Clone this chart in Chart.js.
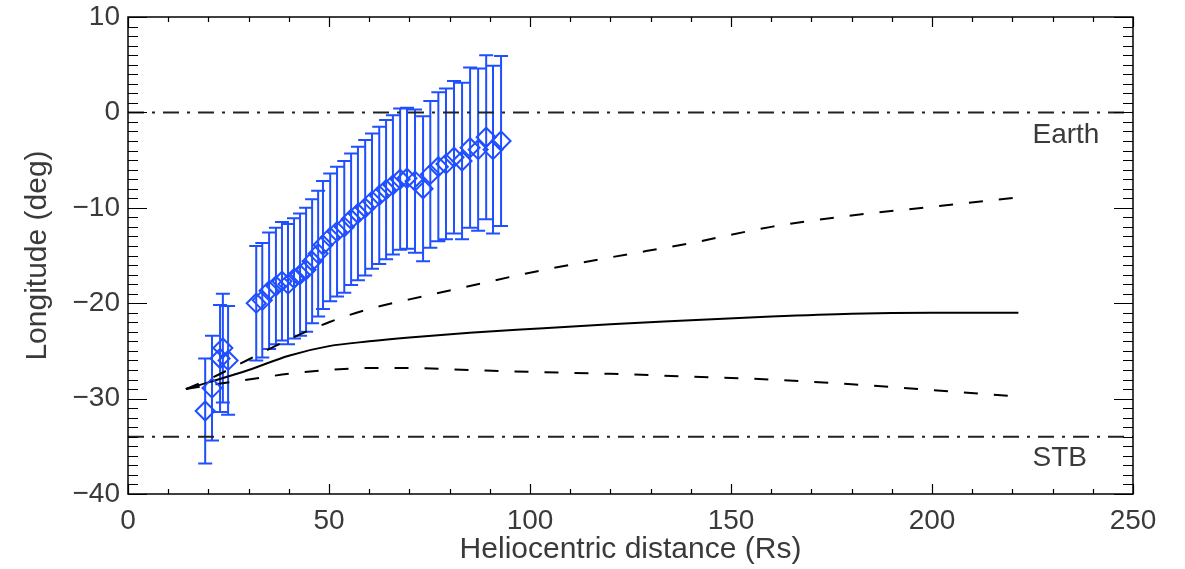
<!DOCTYPE html>
<html>
<head>
<meta charset="utf-8">
<script src="https://cdn.jsdelivr.net/npm/chart.js@4.4.0/dist/chart.umd.min.js"></script>
<style>
  html, body { margin: 0; padding: 0; background: #fff; }
</style>
</head>
<body>
<canvas id="myChart" width="1185" height="569"></canvas>
<script>
// Tracked CME front: heliocentric distance (Rs), longitude (deg) and its error (deg)
let distance = [
  19.2, 20.9, 22.9, 23.6, 24.9,
  31.9, 33.4, 35.1, 36.8, 38.3, 39.8, 41.3, 42.8, 44.3, 45.8,
  47.3, 48.5, 50.3, 52.0, 53.8, 55.5, 57.2, 59.0, 60.7, 62.5,
  64.2, 65.9, 67.7, 69.4, 71.4, 73.4, 75.2, 77.2, 79.1, 81.1,
  83.1, 85.1, 87.1, 89.1, 90.8, 92.8
];
let longitude = [
  -31.3, -28.9, -25.8, -24.7, -26.0,
  -20.0, -19.7, -18.7, -18.2, -17.7, -18.0, -17.4, -17.0, -16.5, -15.6,
  -14.8, -13.9, -13.1, -12.5, -12.0, -11.2, -10.6, -10.0, -9.3, -8.7,
  -8.1, -7.6, -7.0, -6.9, -7.2, -8.0, -6.5, -5.7, -5.4, -4.7,
  -5.1, -3.7, -3.9, -2.6, -3.9, -3.0
];
let longitudeErr = [
  5.5, 5.5, 5.6, 5.7, 5.7,
  6.0, 6.0, 6.1, 6.1, 6.2, 6.3, 6.3, 6.4, 6.5, 6.5,
  6.6, 6.7, 6.7, 6.8, 6.9, 6.9, 7.0, 7.1, 7.1, 7.2,
  7.3, 7.3, 7.4, 7.4, 7.5, 7.6, 7.7, 7.8, 7.9, 8.0,
  8.2, 8.4, 8.5, 8.6, 8.8, 8.9
];

// Model track and its upper / lower envelope
let modelDist = [14.4, 20, 30, 40, 50, 60, 70, 85, 100, 120, 140, 160, 180, 200, 221.5];
let modelMid  = [-29.0, -28.3, -27.0, -25.5, -24.5, -24.0, -23.6, -23.1, -22.7, -22.2, -21.8, -21.4, -21.1, -21.0, -21.0];
let modelHigh = [-29.0, -28.0, -25.9, -23.8, -22.0, -20.6, -19.6, -18.2, -16.8, -15.2, -13.7, -12.0, -10.8, -9.9, -8.9];
let modelLow  = [-29.0, -28.6, -28.0, -27.4, -27.0, -26.8, -26.8, -27.0, -27.2, -27.4, -27.7, -28.0, -28.5, -29.1, -29.8];

// Reference longitudes
let earthLon = 0;
let stbLon = -34;

// Axes
let xTicks = [0, 50, 100, 150, 200, 250];
let yTicks = [-40, -30, -20, -10, 0, 10];

const blue = '#1f4fff';
const fontFamily = "'Liberation Sans', Arial, sans-serif";
const textColor = '#3a3a3a';

function points(xs, ys) {
  return xs.map((x, i) => ({ x: x, y: ys[i] }));
}

function fmt(v) {
  return v < 0 ? '\u2212' + Math.abs(v) : String(v);
}

const xMin = xTicks[0];
const xMax = xTicks[xTicks.length - 1];

// error bars under the diamonds
const errorBars = {
  id: 'errorBars',
  beforeDatasetsDraw(chart) {
    const { ctx, scales: { x, y } } = chart;
    ctx.save();
    ctx.strokeStyle = blue;
    ctx.lineWidth = 2;
    ctx.beginPath();
    distance.forEach((d, i) => {
      const px = x.getPixelForValue(d);
      const top = y.getPixelForValue(longitude[i] + longitudeErr[i]);
      const bot = y.getPixelForValue(longitude[i] - longitudeErr[i]);
      ctx.moveTo(px, top); ctx.lineTo(px, bot);
      ctx.moveTo(px - 7, top); ctx.lineTo(px + 7, top);
      ctx.moveTo(px - 7, bot); ctx.lineTo(px + 7, bot);
    });
    ctx.stroke();
    ctx.restore();
  }
};

// box with inward ticks on all four sides, plus the Earth / STB labels
const frame = {
  id: 'frame',
  afterDatasetsDraw(chart) {
    const { ctx, chartArea: a, scales: { x, y } } = chart;
    ctx.save();
    ctx.strokeStyle = '#000';
    ctx.lineWidth = 1.5;
    ctx.strokeRect(a.left, a.top, a.right - a.left, a.bottom - a.top);

    ctx.lineWidth = 1.2;
    ctx.beginPath();
    for (let v = x.min; v <= x.max; v += 10) {
      const px = Math.round(x.getPixelForValue(v)) + 0.5;
      const len = v % 50 === 0 ? 10 : 5;
      ctx.moveTo(px, a.bottom); ctx.lineTo(px, a.bottom - len);
      ctx.moveTo(px, a.top); ctx.lineTo(px, a.top + len);
    }
    for (let v = y.min; v <= y.max; v += 1) {
      const py = Math.round(y.getPixelForValue(v)) + 0.5;
      const len = v % 10 === 0 ? 19 : 10;
      ctx.moveTo(a.left, py); ctx.lineTo(a.left + len, py);
      ctx.moveTo(a.right, py); ctx.lineTo(a.right - len, py);
    }
    ctx.stroke();

    ctx.fillStyle = textColor;
    ctx.font = '28px ' + fontFamily;
    ctx.textAlign = 'left';
    ctx.textBaseline = 'middle';
    const lx = x.getPixelForValue(225);
    ctx.fillText('Earth', lx, y.getPixelForValue(earthLon) + 23);
    ctx.fillText('STB', lx, y.getPixelForValue(stbLon) + 22);
    ctx.restore();
  }
};

const config = {
  type: 'line',
  data: {
    datasets: [
      {
        label: 'CME',
        data: points(distance, longitude),
        showLine: false,
        pointStyle: 'rectRot',
        pointRadius: 9.5,
        pointBorderWidth: 2,
        pointBorderColor: blue,
        pointBackgroundColor: 'rgba(0,0,0,0)',
        borderColor: blue,
      },
      {
        label: 'model',
        data: points(modelDist, modelMid),
        borderColor: '#000',
        borderWidth: 2,
        pointRadius: 0,
        cubicInterpolationMode: 'monotone',
      },
      {
        label: 'upper',
        data: points(modelDist, modelHigh),
        borderColor: '#000',
        borderWidth: 2,
        borderDash: [14, 16],
        pointRadius: 0,
        cubicInterpolationMode: 'monotone',
      },
      {
        label: 'lower',
        data: points(modelDist, modelLow),
        borderColor: '#000',
        borderWidth: 2,
        borderDash: [14, 16],
        pointRadius: 0,
        cubicInterpolationMode: 'monotone',
      },
      {
        label: 'Earth',
        data: [{ x: xMin, y: earthLon }, { x: xMax, y: earthLon }],
        borderColor: '#222',
        borderWidth: 2,
        borderDash: [16, 8, 3, 8],
        pointRadius: 0,
      },
      {
        label: 'STB',
        data: [{ x: xMin, y: stbLon }, { x: xMax, y: stbLon }],
        borderColor: '#222',
        borderWidth: 2,
        borderDash: [16, 8, 3, 8],
        pointRadius: 0,
      },
    ],
  },
  options: {
    responsive: false,
    animation: false,
    layout: { padding: { top: 17, right: 52, left: 0, bottom: 0 } },
    plugins: {
      legend: { display: false },
      tooltip: { enabled: false },
    },
    scales: {
      x: {
        type: 'linear',
        min: xMin,
        max: xMax,
        afterBuildTicks: (s) => { s.ticks = xTicks.map(v => ({ value: v })); },
        afterFit: (s) => { s.height = 75; s.paddingLeft = 0; s.paddingRight = 0; },
        grid: { display: false, drawTicks: false },
        border: { display: false },
        ticks: {
          padding: 10,
          color: textColor,
          font: { family: fontFamily, size: 28 },
          callback: (v) => fmt(v),
        },
        title: {
          display: true,
          text: 'Heliocentric distance (Rs)',
          color: textColor,
          font: { family: fontFamily, size: 30 },
          padding: { top: 0, bottom: 1 },
        },
      },
      y: {
        type: 'linear',
        min: yTicks[0],
        max: yTicks[yTicks.length - 1],
        afterBuildTicks: (s) => { s.ticks = yTicks.map(v => ({ value: v })); },
        afterFit: (s) => { s.width = 128; s.paddingTop = 0; s.paddingBottom = 0; },
        grid: { display: false, drawTicks: false },
        border: { display: false },
        ticks: {
          padding: 8,
          color: textColor,
          font: { family: fontFamily, size: 28 },
          callback: (v) => fmt(v),
        },
        title: {
          display: true,
          text: 'Longitude (deg)',
          color: textColor,
          font: { family: fontFamily, size: 30 },
          padding: { top: 20, bottom: 0 },
        },
      },
    },
  },
  plugins: [errorBars, frame],
};

let myChart = new Chart(document.getElementById('myChart'), config);
</script>
</body>
</html>
